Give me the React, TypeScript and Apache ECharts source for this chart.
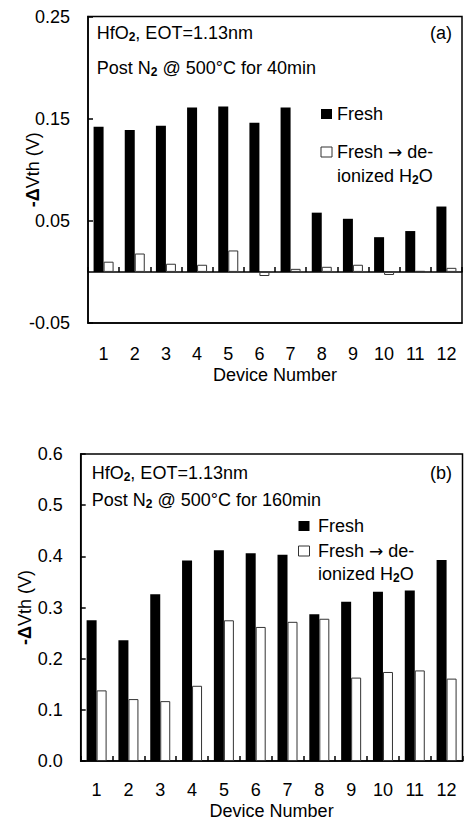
import React, { useEffect, useRef } from "react";
import * as echarts from "echarts";

const devices = ["1", "2", "3", "4", "5", "6", "7", "8", "9", "10", "11", "12"];

// (a) Post N2 @ 500°C for 40min
const fresh40 = [0.142, 0.139, 0.143, 0.161, 0.162, 0.146, 0.161, 0.058, 0.052, 0.034, 0.040, 0.064];
const water40 = [0.010, 0.018, 0.008, 0.007, 0.021, -0.004, 0.003, 0.005, 0.007, -0.003, 0.001, 0.004];

// (b) Post N2 @ 500°C for 160min
const fresh160 = [0.275, 0.236, 0.326, 0.392, 0.412, 0.406, 0.403, 0.287, 0.311, 0.331, 0.333, 0.393];
const water160 = [0.138, 0.121, 0.117, 0.147, 0.275, 0.262, 0.272, 0.278, 0.163, 0.174, 0.177, 0.161];

const seriesNames = ["Fresh", "Fresh \u2192 de-ionized H2O"];

const FONT = "'Liberation Sans', Arial, Helvetica, sans-serif";
const FS = 18;

const subRich = {
  sub: { fontSize: 12, fontWeight: "bold", fontFamily: FONT, fill: "#000", padding: [8, 0, 0, 0] },
  arr: { fontSize: 17, fontFamily: "'DejaVu Sans', sans-serif", fill: "#000" },
};

function txt(x: number, y: number, text: string, align: string = "left") {
  return {
    type: "text",
    x,
    y,
    silent: true,
    style: {
      text,
      fill: "#000",
      fontSize: FS,
      fontFamily: FONT,
      align,
      verticalAlign: "middle",
      rich: subRich,
    },
  };
}

function box(x: number, y: number, filled: boolean) {
  return {
    type: "rect",
    silent: true,
    shape: { x, y, width: 11, height: 10 },
    style: filled ? { fill: "#000" } : { fill: "#fff", stroke: "#333", lineWidth: 1 },
  };
}

export default function App() {
  const ref = useRef<HTMLDivElement>(null);

  useEffect(() => {
    if (!ref.current) return;
    const chart = echarts.init(ref.current, undefined, { renderer: "svg" });

    const axisLine = { lineStyle: { color: "#000", width: 1.5 } };
    const labelStyle = { color: "#000", fontSize: FS, fontFamily: FONT };
    const yName = "{d|-\u0394}Vth (V)";
    const yNameStyle = {
      color: "#000",
      fontSize: FS,
      fontFamily: FONT,
      rich: { d: { fontSize: FS, fontWeight: "bold", fontFamily: FONT, color: "#000" } },
    };
    const xNameStyle = { color: "#000", fontSize: FS, fontFamily: FONT };

    const option: any = {
      animation: false,
      backgroundColor: "#fff",
      grid: [
        { left: 88, top: 16.5, width: 374, height: 306.5, show: true, borderColor: "#000", borderWidth: 1.5, backgroundColor: "transparent" },
        { left: 80.7, top: 454, width: 381.8, height: 307.7, show: true, borderColor: "#000", borderWidth: 1.5, backgroundColor: "transparent" },
      ],
      xAxis: [
        {
          gridIndex: 0,
          type: "category",
          data: devices,
          position: "bottom",
          axisLine: { ...axisLine, onZero: false },
          axisTick: { show: false },
          axisLabel: { ...labelStyle, margin: 22 },
          name: "Device Number",
          nameLocation: "middle",
          nameGap: 43,
          nameMoveOverlap: false,
          nameTextStyle: xNameStyle,
          splitLine: { show: false },
        },
        {
          gridIndex: 0,
          type: "category",
          data: devices,
          position: "bottom",
          axisLine: { ...axisLine, onZero: true },
          axisTick: { show: true, inside: true, length: 5, lineStyle: { color: "#000", width: 1.5 } },
          axisLabel: { show: false },
          splitLine: { show: false },
        },
        {
          gridIndex: 1,
          type: "category",
          data: devices,
          position: "bottom",
          axisLine: { ...axisLine, onZero: true },
          axisTick: { show: true, inside: true, length: 5, lineStyle: { color: "#000", width: 1.5 } },
          axisLabel: { ...labelStyle, margin: 20 },
          name: "Device Number",
          nameLocation: "middle",
          nameGap: 41,
          nameMoveOverlap: false,
          nameTextStyle: xNameStyle,
          splitLine: { show: false },
        },
      ],
      yAxis: [
        {
          gridIndex: 0,
          type: "value",
          min: -0.05,
          max: 0.25,
          interval: 0.1,
          axisLine: { show: true, ...axisLine },
          axisTick: { show: true, inside: true, length: 5, lineStyle: { color: "#000", width: 1.5 } },
          axisLabel: { ...labelStyle, margin: 18, formatter: (v: number) => v.toFixed(2) },
          splitLine: { show: false },
          name: yName,
          nameLocation: "middle",
          nameGap: 46,
          nameMoveOverlap: false,
          nameTextStyle: yNameStyle,
        },
        {
          gridIndex: 1,
          type: "value",
          min: 0,
          max: 0.6,
          interval: 0.1,
          axisLine: { show: true, ...axisLine },
          axisTick: { show: true, inside: true, length: 5, lineStyle: { color: "#000", width: 1.5 } },
          axisLabel: { ...labelStyle, margin: 18, formatter: (v: number) => v.toFixed(1) },
          splitLine: { show: false },
          name: yName,
          nameLocation: "middle",
          nameGap: 47,
          nameMoveOverlap: false,
          nameTextStyle: yNameStyle,
        },
      ],
      series: [
        {
          name: seriesNames[0], type: "bar", xAxisIndex: 0, yAxisIndex: 0, data: fresh40,
          barWidth: 10, barGap: "0%", itemStyle: { color: "#000" },
        },
        {
          name: seriesNames[1], type: "bar", xAxisIndex: 0, yAxisIndex: 0, data: water40,
          barWidth: 10, barGap: "0%", itemStyle: { color: "#fff", borderColor: "#333", borderWidth: 1 },
        },
        {
          name: seriesNames[0], type: "bar", xAxisIndex: 2, yAxisIndex: 1, data: fresh160,
          barWidth: 10, barGap: "0%", itemStyle: { color: "#000" },
        },
        {
          name: seriesNames[1], type: "bar", xAxisIndex: 2, yAxisIndex: 1, data: water160,
          barWidth: 10, barGap: "0%", itemStyle: { color: "#fff", borderColor: "#333", borderWidth: 1 },
        },
      ],
      graphic: [
        // panel (a)
        txt(96.7, 33, "HfO{sub|2}, EOT=1.13nm"),
        txt(452, 33, "(a)", "right"),
        txt(96.7, 67.5, "Post N{sub|2} @ 500\u00b0C for 40min"),
        box(321, 109, true),
        txt(337, 114, "Fresh"),
        box(321, 147, false),
        txt(337, 152, "Fresh {arr|\u2192} de-"),
        txt(337, 176, "ionized H{sub|2}O"),
        // panel (b)
        txt(91.7, 473, "HfO{sub|2}, EOT=1.13nm"),
        txt(452, 473, "(b)", "right"),
        txt(91.7, 500, "Post N{sub|2} @ 500\u00b0C for 160min"),
        box(298.5, 521, true),
        txt(318, 526, "Fresh"),
        box(298.5, 546, false),
        txt(318, 551, "Fresh {arr|\u2192} de-"),
        txt(318, 574, "ionized H{sub|2}O"),
      ],
    };

    chart.setOption(option);
    return () => chart.dispose();
  }, []);

  return (
    <div
      ref={ref}
      style={{ position: "absolute", left: 0, top: 0, width: 464, height: 821, background: "#fff" }}
    />
  );
}
